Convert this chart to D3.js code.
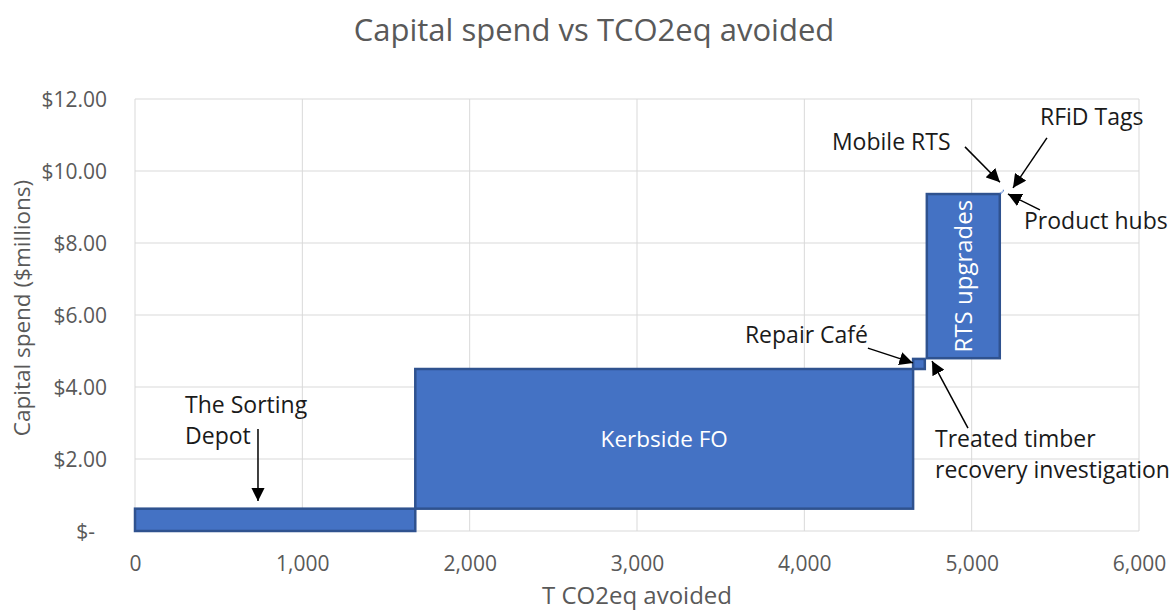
<!DOCTYPE html>
<html>
<head>
<meta charset="utf-8">
<script src="https://cdn.jsdelivr.net/npm/d3@7"></script>
<style>
  html, body { margin: 0; padding: 0; background: #fff; }
  svg { display: block; font-family: "Open Sans", "Segoe UI", sans-serif; }
</style>
</head>
<body>
<svg id="chart" width="1176" height="614"></svg>
<script>
// Projects, in order along the abatement curve
const projects = [
  "The Sorting Depot", "Kerbside FO", "Repair Café",
  "Treated timber recovery investigation", "RTS upgrades",
  "Mobile RTS", "Product hubs", "RFiD Tags"
];
// Tonnes CO2eq avoided by each project
const tco2Avoided = [1675, 2975, 70, 12, 436, 10, 8, 6];
// Capital spend for each project ($ millions)
const capitalSpend = [0.62, 3.88, 0.28, 0.02, 4.56, 0.04, 0.03, 0.05];
// Projects whose name is written inside their block
const insideLabels = ["Kerbside FO", "RTS upgrades"];

// Axis ticks
const xTicks = [0, 1000, 2000, 3000, 4000, 5000, 6000];
const yTicks = [0, 2, 4, 6, 8, 10, 12];

// Callout notes: text anchor and arrow (from -> to), all in data units
const callouts = [
  { lines: ["The Sorting", "Depot"], tx: 299, ty: 3.28, ax1: 735, ay1: 2.83, ax2: 735, ay2: 0.83 },
  { lines: ["Repair Café"], tx: 3645, ty: 5.22, ax1: 4380, ay1: 5.08, ax2: 4649, ay2: 4.67 },
  { lines: ["Treated timber", "recovery investigation"], tx: 4781, ty: 2.33, ax1: 4978, ay1: 2.86, ax2: 4763, ay2: 4.72 },
  { lines: ["Mobile RTS"], tx: 4165, ty: 10.58, ax1: 4960, ay1: 10.67, ax2: 5169, ay2: 9.69 },
  { lines: ["RFiD Tags"], tx: 5408, ty: 11.28, ax1: 5450, ay1: 10.92, ax2: 5247, ay2: 9.53 },
  { lines: ["Product hubs"], tx: 5313, ty: 8.39, ax1: 5408, ay1: 8.92, ax2: 5217, ay2: 9.36 }
];

// Build cumulative blocks: each project starts where the previous one ended
let cx = 0, cy = 0;
const blocks = projects.map((name, i) => {
  const b = { name, x0: cx, y0: cy, x1: cx + tco2Avoided[i], y1: cy + capitalSpend[i] };
  cx = b.x1; cy = b.y1;
  return b;
});

const svg = d3.select("#chart");
const plot = { left: 135, right: 1139, top: 99, bottom: 531 };

const x = d3.scaleLinear().domain([0, 6000]).range([plot.left, plot.right]);
const y = d3.scaleLinear().domain([0, 12]).range([plot.bottom, plot.top]);

const axisGrey = "#595959";
const gridGrey = "#d9d9d9";

// Gridlines
svg.append("g").selectAll("line").data(xTicks).join("line")
  .attr("x1", d => x(d)).attr("x2", d => x(d))
  .attr("y1", plot.top).attr("y2", plot.bottom)
  .attr("stroke", gridGrey).attr("stroke-width", 1);
svg.append("g").selectAll("line").data(yTicks).join("line")
  .attr("x1", plot.left).attr("x2", plot.right)
  .attr("y1", d => y(d)).attr("y2", d => y(d))
  .attr("stroke", gridGrey).attr("stroke-width", 1);

// Axes (labels only, no domain or tick marks)
const xAxis = d3.axisBottom(x).tickValues(xTicks).tickSize(0).tickPadding(0)
  .tickFormat(d3.format(",d"));
const gx = svg.append("g").attr("transform", `translate(0,${plot.bottom})`).call(xAxis);
gx.select(".domain").remove();
gx.selectAll("text").attr("y", 40).attr("dy", 0)
  .attr("fill", axisGrey).style("font-size", "21px").style("font-family", "\"Open Sans\", sans-serif");

const money = d3.format("$.2f");
const yAxis = d3.axisLeft(y).tickValues(yTicks).tickSize(0).tickPadding(0)
  .tickFormat(d => d === 0 ? "$-" : money(d));
const gy = svg.append("g").attr("transform", `translate(${plot.left},0)`).call(yAxis);
gy.select(".domain").remove();
gy.selectAll("text")
  .attr("x", d => d === 0 ? -40 : -28).attr("dy", "0.35em")
  .attr("fill", axisGrey).style("font-size", "21px").style("font-family", "\"Open Sans\", sans-serif");

// Blocks
svg.append("g").selectAll("rect").data(blocks).join("rect")
  .attr("x", d => x(d.x0))
  .attr("y", d => y(d.y1))
  .attr("width", d => x(d.x1) - x(d.x0))
  .attr("height", d => y(d.y0) - y(d.y1))
  .attr("fill", "#4472C4")
  .attr("stroke", d => (x(d.x1) - x(d.x0)) > 4 ? "#2F528F" : "none")
  .attr("stroke-width", 2.5);

// Names written inside the larger blocks
blocks.filter(b => insideLabels.includes(b.name)).forEach(b => {
  const mx = (x(b.x0) + x(b.x1)) / 2, my = (y(b.y0) + y(b.y1)) / 2;
  const w = x(b.x1) - x(b.x0), h = y(b.y0) - y(b.y1);
  const t = svg.append("text")
    .attr("fill", "#ffffff")
    .attr("text-anchor", "middle").attr("dy", "0.35em")
    .text(b.name);
  if (h > w) t.style("font-size", "24px").attr("transform", `translate(${mx},${my}) rotate(-90)`);
  else t.style("font-size", "22.5px").attr("x", mx).attr("y", my);
});

// Callouts
const defs = svg.append("defs");
defs.append("marker").attr("id", "head")
  .attr("viewBox", "0 0 10 10").attr("refX", 10).attr("refY", 5)
  .attr("markerWidth", 9).attr("markerHeight", 9)
  .attr("markerUnits", "strokeWidth").attr("orient", "auto")
  .append("path").attr("d", "M0,0 L10,5 L0,10 Z").attr("fill", "#000");

const notes = svg.append("g");
callouts.forEach(c => {
  notes.append("line")
    .attr("x1", x(c.ax1)).attr("y1", y(c.ay1))
    .attr("x2", x(c.ax2)).attr("y2", y(c.ay2))
    .attr("stroke", "#000").attr("stroke-width", 1.5)
    .attr("marker-end", "url(#head)");
  const t = notes.append("text")
    .attr("x", x(c.tx)).attr("y", y(c.ty))
    .attr("fill", "#1a1a1a").style("font-size", "23px");
  c.lines.forEach((ln, i) => {
    t.append("tspan").attr("x", x(c.tx)).attr("dy", i === 0 ? 0 : 31).text(ln);
  });
});

// Titles
svg.append("text")
  .attr("x", 594).attr("y", 41).attr("text-anchor", "middle")
  .attr("fill", axisGrey).style("font-size", "31px")
  .text("Capital spend vs TCO2eq avoided");

svg.append("text")
  .attr("x", (plot.left + plot.right) / 2).attr("y", 604).attr("text-anchor", "middle")
  .attr("fill", axisGrey).style("font-size", "24px")
  .text("T CO2eq avoided");

svg.append("text")
  .attr("transform", "translate(30,308) rotate(-90)")
  .attr("text-anchor", "middle")
  .attr("fill", axisGrey).style("font-size", "22.5px")
  .text("Capital spend ($millions)");
</script>
</body>
</html>
